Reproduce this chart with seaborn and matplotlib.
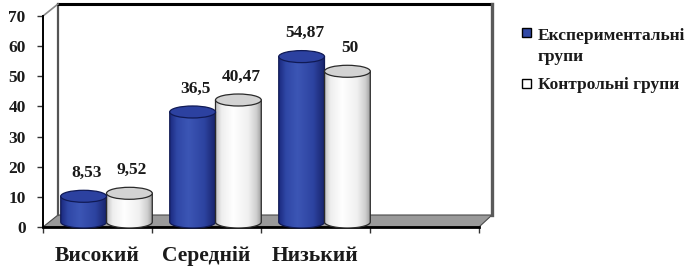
import textwrap

import numpy as np
import pandas as pd
import matplotlib
matplotlib.use("Agg")
import matplotlib.pyplot as plt
import seaborn as sns
from matplotlib.colors import LinearSegmentedColormap
from matplotlib.patches import Ellipse, PathPatch, Polygon, Rectangle
from matplotlib.path import Path
from matplotlib.transforms import ScaledTranslation

# ---------------------------------------------------------------------------
# Data
# ---------------------------------------------------------------------------
levels = ["Високий", "Середній", "Низький"]
groups = ["Експериментальні групи", "Контрольні групи"]
experimental = [8.53, 36.5, 54.87]
control = [9.52, 40.47, 50]
y_ticks = [0, 10, 20, 30, 40, 50, 60, 70]

df = pd.DataFrame({
    "level": levels * 2,
    "group": [groups[0]] * len(levels) + [groups[1]] * len(levels),
    "value": experimental + control,
})

BLUE = "#3149a6"
WHITE = "#ffffff"
body_cmaps = [
    LinearSegmentedColormap.from_list("blue_cyl", [
        (0.0, "#1c2b80"), (0.15, "#2f47a6"), (0.4, "#3c56b5"),
        (0.75, "#2d43a0"), (1.0, "#17236a")]),
    LinearSegmentedColormap.from_list("white_cyl", [
        (0.0, "#c4c4c4"), (0.12, "#eeeeee"), (0.38, "#ffffff"),
        (0.7, "#f0f0f0"), (0.88, "#cfcfcf"), (1.0, "#989898")]),
]
top_colors = ["#2c41a0", "#d3d3d3"]
edge_colors = ["#101a55", "#2a2a2a"]

# ---------------------------------------------------------------------------
# Figure
# ---------------------------------------------------------------------------
sns.set_theme(style="white")
plt.rcParams["font.family"] = ["Liberation Serif", "DejaVu Serif"]
plt.rcParams["font.weight"] = "bold"

W, H = 686, 269
fig = plt.figure(figsize=(W / 100, H / 100), dpi=100)
ax = fig.add_axes([43 / W, 42 / H, 436 / W, 211 / H])

sns.barplot(data=df, x="level", y="value", hue="group", order=levels,
            hue_order=groups, palette=[BLUE, WHITE], width=0.84,
            legend=False, ax=ax)
ax.set_xlim(-0.5, 3.5)
ax.set_ylim(0, 70)


def px_to_axes(px, py):
    """Pixel position (from top-left of the figure) to axes fraction."""
    return ((px - 43) / 436, (227 - py) / 211)


# --- 3D frame: floor and back walls ---
DXL, DXR, DY = 15, 13, 12
floor = Polygon([px_to_axes(43, 227), px_to_axes(479, 227),
                 px_to_axes(479 + DXR, 227 - DY), px_to_axes(43 + DXL, 227 - DY)],
                closed=True, transform=ax.transAxes, facecolor="#9a9a9a",
                edgecolor="#4a4a4a", lw=0.8, clip_on=False, zorder=1)
ax.add_patch(floor)

frame = dict(transform=ax.transAxes, clip_on=False, zorder=1,
             solid_capstyle="projecting")
xs, ys = zip(px_to_axes(43 + DXL, 227 - DY), px_to_axes(43 + DXL, 16 - DY))
ax.plot(xs, ys, color="#555555", lw=1.6, **frame)
xs, ys = zip(px_to_axes(43 + DXL, 16 - DY), px_to_axes(479 + DXR, 16 - DY))
ax.plot(xs, ys, color="black", lw=2.2, **frame)
xs, ys = zip(px_to_axes(479 + DXR, 16 - DY), px_to_axes(479 + DXR, 227 - DY))
ax.plot(xs, ys, color="#5a5a5a", lw=2.4, **frame)
xs, ys = zip(px_to_axes(43, 16), px_to_axes(43 + DXL, 16 - DY))
ax.plot(xs, ys, color="#888888", lw=1.2, **frame)

# --- Cylinders built on top of seaborn's bars ---
bar_shift = ax.transData + ScaledTranslation(0.09, 0.05, fig.dpi_scale_trans)
ry = 6 / (211 / 70)  # half height of the ellipse, in data units
grad = np.linspace(0, 1, 256)[np.newaxis, :]

for i, container in enumerate(ax.containers):
    for bar in container:
        x0, w, h = bar.get_x(), bar.get_width(), bar.get_height()
        bar.set_visible(False)
        xc, rx = x0 + w / 2, w / 2
        t = np.linspace(np.pi, 2 * np.pi, 60)
        verts = ([(x0, h), (x0, 0)]
                 + list(zip(xc + rx * np.cos(t), ry * np.sin(t)))
                 + [(x0 + w, h), (x0, h)])
        codes = [Path.MOVETO] + [Path.LINETO] * (len(verts) - 2) + [Path.CLOSEPOLY]
        body = PathPatch(Path(verts, codes), facecolor="none",
                         edgecolor=edge_colors[i], lw=0.9, transform=bar_shift,
                         zorder=4, clip_on=False)
        ax.add_patch(body)
        im = ax.imshow(grad, extent=(x0, x0 + w, -ry, h), aspect="auto",
                       cmap=body_cmaps[i], transform=bar_shift, zorder=3,
                       interpolation="bilinear")
        im.set_clip_box(fig.bbox)
        im.set_clip_path(body)
        top = Ellipse((xc, h), width=w, height=2 * ry, transform=bar_shift,
                      facecolor=top_colors[i], edgecolor=edge_colors[i],
                      lw=0.9, zorder=5, clip_on=False)
        ax.add_patch(top)
        label = f"{h:g}".replace(".", ",")
        ax.annotate(label, xy=(xc, h), xycoords=bar_shift,
                    xytext=(2, 14), textcoords="offset points",
                    ha="center", va="baseline", fontsize=12.5,
                    fontweight="bold", color="#1a1a1a", zorder=6)

ax.set_xlim(-0.5, 3.5)
ax.set_ylim(0, 70)

# --- Axes styling ---
for side in ["top", "right"]:
    ax.spines[side].set_visible(False)
ax.spines["left"].set_color("black")
ax.spines["left"].set_linewidth(1.4)
ax.spines["bottom"].set_color("black")
ax.spines["bottom"].set_linewidth(2.0)

ax.set_yticks(y_ticks)
ax.set_yticklabels([str(v) for v in y_ticks], fontsize=12.5, fontweight="bold",
                   color="#1a1a1a")
ax.tick_params(axis="y", direction="out", length=4.5, width=1, color="#333333",
               pad=8, left=True)

ax.set_xticks(range(len(levels)))
ax.set_xticklabels(levels, fontsize=15.5, fontweight="bold", color="#1a1a1a")
ax.set_xticks(np.arange(-0.5, 4, 1), minor=True)
ax.tick_params(axis="x", which="major", length=0, pad=14)
ax.tick_params(axis="x", which="minor", direction="out", length=4.5, width=1,
               color="#333333", bottom=True)
ax.set_xlabel("")
ax.set_ylabel("")
ax.grid(False)
ax.set_facecolor("none")

# --- Legend (drawn by hand, marker aligned with the first line) ---
for label, color, (marker_top, text_top) in zip(groups, [BLUE, WHITE],
                                                [(28, 28), (79, 77)]):
    fig.add_artist(Rectangle((522 / W, 1 - (marker_top + 9) / H), 9 / W, 9 / H,
                             transform=fig.transFigure, facecolor=color,
                             edgecolor="black", lw=1.0))
    fig.text(538 / W, 1 - text_top / H, textwrap.fill(label, 16),
             ha="left", va="top", fontsize=12.5, fontweight="bold",
             color="#1a1a1a", linespacing=1.45)

fig.savefig("out.png", dpi=100)
